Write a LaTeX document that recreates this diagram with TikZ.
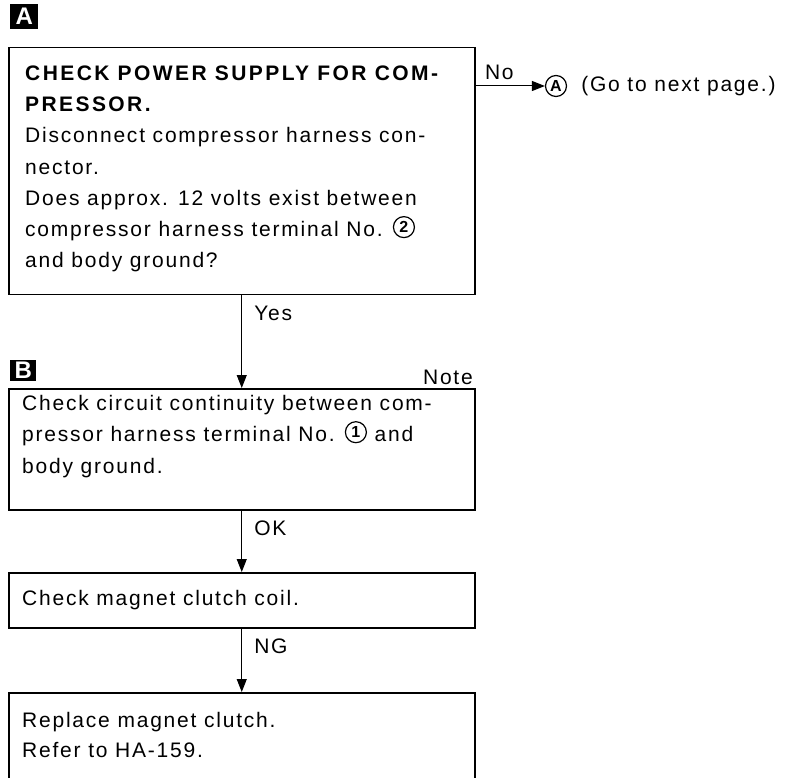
\documentclass[tikz,border=0pt]{standalone}
\usepackage{fontspec}
\setmainfont{Liberation Sans}[LetterSpace=8.5,BoldFeatures={LetterSpace=11.5}]
\usetikzlibrary{arrows.meta,positioning}
\newcommand\cnum[1]{\tikz[baseline={([yshift=-4pt]n.base)}]\node[draw,circle,line width=1.2pt,minimum size=21pt,inner sep=0pt](n){\fontsize{16}{16}\selectfont\bfseries #1};}
\begin{document}
\begin{tikzpicture}[x=1pt,y=-1pt,>={Triangle[length=13pt,width=10pt]},
  box/.style={draw,line width=1.5pt,minimum width=466pt,anchor=north west,inner sep=0pt},
  txt/.style={anchor=base west,align=left,inner sep=0pt,font=\fontsize{21}{31.3}\selectfont},
  lbl/.style={font=\fontsize{21}{21}\selectfont,inner sep=0pt},
  tag/.style={fill=black,text=white,font=\bfseries\fontsize{24}{24}\selectfont,minimum width=28pt,minimum height=25pt,inner sep=0pt,anchor=north west},
  arr/.style={->,line width=1pt}]
  \clip (0,0) rectangle (793,778);
  % step A (base = last line)
  \node[tag] (tagA) at (10,4) {A};
  \node[box,minimum height=247pt] (power) at (8,47) {};
  \node[txt] (powerT) at (25,268) {\textbf{CHECK POWER SUPPLY FOR COM-}\\\textbf{PRESSOR.}\\
    Disconnect compressor harness con-\\nector.\\Does approx. 12 volts exist between\\
    compressor harness terminal No. \cnum{2}\\and body ground?};
  \node[draw,circle,line width=1.2pt,minimum size=21pt,inner sep=0pt,font=\fontsize{16}{16}\selectfont\bfseries] (nextA) at (556,86) {A};
  \node[lbl,right=14pt of nextA] (nextT) {(Go to next page.)};
  \draw[arr] (nextA -| power.east) -- (nextA.west) node[lbl,pos=0,above right=6pt and 9pt] {No};
  % step B
  \node[tag,minimum width=26pt,minimum height=21pt] (tagB) at (10,360) {B};
  \node[lbl,anchor=south east] (note) at (473,385) {Note};
  \node[box,minimum height=121pt] (ground) at (8,388) {};
  \node[txt] (groundT) at (22,473) {Check circuit continuity between com-\\
    pressor harness terminal No. \cnum{1} and\\body ground.};
  \node[box,minimum height=55pt] (coil) at (8,572) {};
  \node[txt] (coilT) at (22,605) {Check magnet clutch coil.};
  \node[box,minimum height=120pt] (clutch) at (8,692) {};
  \node[txt,font=\fontsize{21}{30}\selectfont] (clutchT) at (22,757) {Replace magnet clutch.\\Refer to HA-159.};
  \draw[arr] (power.south) -- (ground.north) node[lbl,pos=0.19,right=12pt] {Yes};
  \draw[arr] (ground.south) -- (coil.north) node[lbl,pos=0.29,right=12pt] {OK};
  \draw[arr] (coil.south) -- (clutch.north) node[lbl,pos=0.28,right=12pt] {NG};
\end{tikzpicture}
\end{document}
